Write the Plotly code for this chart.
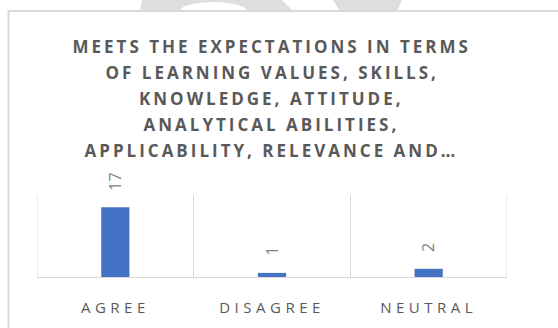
import plotly.graph_objects as go

categories = ["AGREE", "DISAGREE", "NEUTRAL"]
values = [17, 1, 2]
title_lines = [
    "MEETS THE EXPECTATIONS IN TERMS",
    "OF LEARNING VALUES, SKILLS,",
    "KNOWLEDGE, ATTITUDE,",
    "ANALYTICAL ABILITIES,",
    "APPLICABILITY, RELEVANCE AND\u2026",
]

W, H = 558, 328
L, R, T, B = 37, 51, 195, 51
PW, PH = W - L - R, H - T - B


def px(x):
    return (x - L) / PW


def py(y):
    return (H - B - y) / PH


GRID = "#d9d9d9"
TXT = "#595959"

fig = go.Figure()
fig.add_trace(go.Bar(
    x=categories, y=values, width=0.18,
    marker=dict(color="#4472C4", line=dict(width=0)),
    hoverinfo="skip",
))

annotations = []
title_y = [45.5, 71.5, 97.5, 123.5, 149.5]
for line, yy in zip(title_lines, title_y):
    annotations.append(dict(
        text=line, xref="paper", yref="paper", x=px(271.5), y=py(yy + 1),
        xanchor="center", yanchor="middle", showarrow=False,
        font=dict(family="Open Sans", size=17, color=TXT, weight="bold"),
    ))
for c, v in zip(categories, values):
    annotations.append(dict(
        text=str(v), x=c, y=v, xref="x", yref="y", showarrow=False,
        textangle=-90, xanchor="center", yanchor="bottom", yshift=15,
        font=dict(family="Open Sans", size=16, color="#7f7f7f"),
    ))

shapes = [
    # watermark fragments above the chart border
    dict(type="path", xref="paper", yref="paper", layer="below",
         path=f"M {px(142)} {py(0)} L {px(282)} {py(0)} L {px(293)} {py(11)} L {px(140)} {py(11)} Z",
         fillcolor="#dedede", line=dict(width=0)),
    dict(type="circle", xref="paper", yref="paper", layer="below",
         x0=px(180), x1=px(247), y0=py(20), y1=py(2),
         fillcolor="white", line=dict(width=0)),
    dict(type="path", xref="paper", yref="paper", layer="below",
         path=f"M {px(333)} {py(0)} L {px(402)} {py(0)} L {px(397)} {py(11)} L {px(340)} {py(11)} Z",
         fillcolor="#dedede", line=dict(width=0)),
    # chart area: white fill with light grey border
    dict(type="rect", xref="paper", yref="paper", layer="below",
         x0=px(8.5), x1=px(620), y0=py(11), y1=py(420),
         fillcolor="white", line=dict(color=GRID, width=2)),
    # category separators at the outer edges of the plot
    dict(type="line", xref="x", yref="paper", layer="below",
         x0=-0.5, x1=-0.5, y0=0, y1=1, line=dict(color=GRID, width=1)),
    dict(type="line", xref="x", yref="paper", layer="below",
         x0=2.5, x1=2.5, y0=0, y1=1, line=dict(color=GRID, width=1)),
]

fig.update_layout(
    width=W, height=H,
    margin=dict(l=L, r=R, t=T, b=B),
    paper_bgcolor="white", plot_bgcolor="white",
    showlegend=False,
    annotations=annotations,
    shapes=shapes,
    xaxis=dict(
        type="category", tickson="boundaries", showgrid=True,
        gridcolor=GRID, gridwidth=1, showline=True, linecolor=GRID,
        linewidth=1, ticks="", ticklabelstandoff=17,
        tickfont=dict(family="Open Sans", size=15, color=TXT),
        range=[-0.5, 2.5], fixedrange=True,
    ),
    yaxis=dict(visible=False, range=[0, 20], showgrid=False, fixedrange=True),
)

post = """
document.body.style.margin = '0';
document.body.style.padding = '0';
var gd = document.getElementsByClassName('plotly-graph-div')[0];
function sp(){
  var anns = gd.querySelectorAll('.annotation-text');
  for (var i=0;i<anns.length;i++){ if(i<5){anns[i].style.letterSpacing='3px';} }
  gd.querySelectorAll('.xtick text').forEach(function(t){t.style.letterSpacing='4.5px';});
}
sp();
"""

fig.write_html("out.html", post_script=post, config={"displayModeBar": False})
